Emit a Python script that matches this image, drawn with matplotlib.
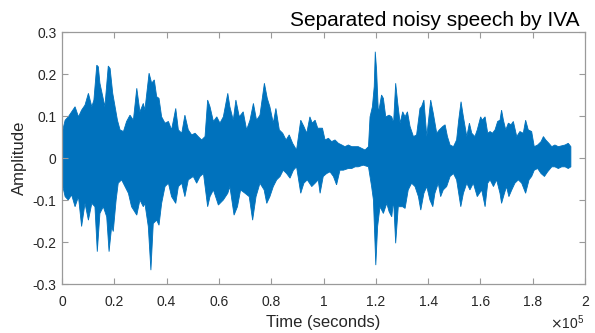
import numpy as np
import matplotlib.pyplot as plt

# --- envelope of the separated signal ---
# positions in thousands of samples, amplitudes in signal units
upper_k = [0, 1.2, 2.4, 3.7, 5.0, 6.3, 7.5, 8.8, 10.1, 11.4, 12.2, 13.3, 13.9, 14.5, 15.6, 16.4,
           17.7, 18.4, 19.4, 20.3, 21.2, 22.2, 23.5, 24.7, 26.0, 27.3, 28.6, 29.8, 31.1,
           31.7, 33.3, 34.3, 35.3, 36.2, 37.1, 38.1, 39.4, 40.7, 41.9, 43.5, 44.5, 45.8, 47.0,
           48.3, 49.6, 50.9, 52.1, 53.4, 54.7, 55.7, 56.6, 57.9, 59.2, 60.4, 61.7, 63.4,
           64.2, 65.5, 66.5, 67.8, 69.3, 70.6, 71.9, 73.2, 74.4, 75.7, 77.4, 78.5, 79.5, 80.8,
           81.8, 83.1, 84.4, 85.7, 86.9, 88.2, 89.7, 91.3, 92.5, 93.6, 94.8, 95.7,
           96.8, 97.8, 98.7, 99.6, 100.6, 101.9, 103.1, 104.4, 105.7, 107.0, 108.2, 109.5,
           110.8, 112.1, 113.3, 114.6, 115.9, 117.2, 117.8, 118.7, 119.4, 119.8, 120.3, 121.0,
           122.2, 122.9, 123.8, 125.1, 126.1, 126.8, 127.6, 128.4, 129.3,
           130.3, 131.2, 132.1, 133.1, 134.4, 135.6, 136.9, 137.5, 138.4, 139.5, 141.0, 142.0,
           143.3, 144.3, 145.6, 146.5, 147.4, 148.4, 149.7, 150.9, 151.7, 152.6, 153.5, 154.8,
           155.8, 156.7, 157.9, 158.8, 160.1, 160.7,
           161.8, 162.8, 163.7, 164.6, 165.6, 166.6, 167.5, 168.1, 168.8, 169.7, 170.7, 171.7,
           172.6, 173.9, 175.1, 176.4, 177.3, 178.3, 179.6, 180.6, 181.9, 183.2, 184.1, 185.0,
           186.2, 187.3, 188.5, 189.8, 191.1, 192.4, 193.6, 194.6]
upper_amp = [0.059, 0.090, 0.098, 0.110, 0.122, 0.098, 0.114, 0.126, 0.154, 0.122, 0.138, 0.221,
             0.217, 0.178, 0.146, 0.122, 0.219, 0.213, 0.154, 0.122, 0.090, 0.067, 0.063, 0.087,
             0.102, 0.090, 0.166, 0.110, 0.130,
             0.114, 0.202, 0.178, 0.186, 0.146, 0.142, 0.098, 0.083, 0.087, 0.067, 0.118, 0.067,
             0.059, 0.102, 0.067, 0.055, 0.059, 0.051, 0.043, 0.051, 0.138, 0.122, 0.087, 0.098,
             0.083, 0.098, 0.154,
             0.122, 0.090, 0.138, 0.098, 0.110, 0.067, 0.090, 0.130, 0.090, 0.102, 0.178, 0.142,
             0.122, 0.083, 0.118, 0.067, 0.059, 0.043, 0.055, 0.035, 0.019, 0.090, 0.075, 0.059,
             0.098, 0.083,
             0.090, 0.071, 0.071, 0.071, 0.043, 0.047, 0.039, 0.043, 0.035, 0.031, 0.027, 0.031,
             0.027, 0.027, 0.027, 0.023, 0.019, 0.027, 0.098, 0.122, 0.170, 0.253, 0.210, 0.106,
             0.150, 0.142, 0.098, 0.102, 0.098, 0.083, 0.178, 0.130, 0.083,
             0.110, 0.098, 0.110, 0.075, 0.051, 0.055, 0.118, 0.122, 0.138, 0.051, 0.138, 0.106,
             0.059, 0.067, 0.075, 0.079, 0.051, 0.031, 0.027, 0.043, 0.090, 0.134, 0.098, 0.051,
             0.083, 0.059, 0.051, 0.067, 0.098, 0.090,
             0.098, 0.059, 0.063, 0.059, 0.067, 0.087, 0.090, 0.114, 0.090, 0.067, 0.083, 0.079,
             0.087, 0.051, 0.063, 0.059, 0.090, 0.067, 0.063, 0.027, 0.031, 0.039, 0.051, 0.043,
             0.035, 0.027, 0.031, 0.027, 0.029, 0.031, 0.035, 0.027]

lower_k = [0, 1.2, 2.4, 3.7, 5.0, 6.3, 7.5, 8.8, 10.1, 11.4, 12.6, 13.5, 14.5, 15.8, 17.1, 18.0,
           19.0, 19.6, 20.7, 21.5, 22.8, 24.1, 25.4, 26.6, 28.6, 29.8, 31.1,
           31.7, 33.0, 34.0, 34.9, 36.2, 37.1, 38.1, 39.4, 40.7, 41.9, 43.5, 44.5, 45.8, 47.0,
           48.3, 50.2, 51.5, 52.8, 54.1, 55.7, 56.6, 57.9, 59.8, 61.7, 63.4,
           64.2, 65.8, 67.1, 68.3, 70.0, 71.6, 72.9, 74.2, 75.7, 77.3, 78.3, 79.5, 80.8, 82.1,
           83.4, 84.6, 85.9, 87.2, 88.5, 89.7, 91.3, 92.5, 93.8, 95.5,
           96.8, 98.0, 98.7, 99.9, 101.2, 102.5, 103.8, 105.0, 106.3, 107.6, 109.5, 110.8,
           112.1, 113.3, 115.2, 117.2, 118.4, 119.1, 120.0, 120.7, 121.6, 122.9, 124.2, 125.1,
           126.1, 126.8, 127.6, 128.6,
           130.3, 131.2, 132.4, 133.7, 135.0, 136.3, 137.2, 138.4, 139.5, 140.7, 141.8, 142.6,
           143.9, 144.8, 145.8, 147.1, 148.4, 149.7, 150.9, 152.5, 153.5, 154.8, 156.0, 157.3,
           158.8, 160.5,
           161.8, 162.8, 163.7, 165.0, 166.2, 167.5, 168.1, 169.2, 170.0, 170.9, 172.0, 173.2,
           174.5, 175.8, 177.3, 178.6, 179.6, 180.6, 181.9, 183.2, 184.5, 185.7, 187.3, 188.5,
           189.8, 191.1, 192.4, 193.6, 194.6]
lower_amp = [-0.060, -0.092, -0.100, -0.088, -0.116, -0.092, -0.163, -0.108, -0.148, -0.108,
             -0.116, -0.223, -0.132, -0.116, -0.140, -0.223, -0.163, -0.175, -0.100, -0.060,
             -0.052, -0.068, -0.084, -0.116, -0.136, -0.100, -0.116,
             -0.108, -0.163, -0.267, -0.156, -0.148, -0.160, -0.108, -0.068, -0.060, -0.092,
             -0.108, -0.068, -0.060, -0.092, -0.052, -0.044, -0.060, -0.044, -0.037, -0.116,
             -0.092, -0.076, -0.112, -0.100, -0.084,
             -0.068, -0.136, -0.116, -0.076, -0.084, -0.092, -0.148, -0.092, -0.060, -0.076,
             -0.108, -0.092, -0.068, -0.052, -0.044, -0.029, -0.037, -0.048, -0.029, -0.021,
             -0.084, -0.060, -0.052, -0.068,
             -0.060, -0.052, -0.084, -0.044, -0.037, -0.033, -0.044, -0.064, -0.029, -0.029,
             -0.025, -0.025, -0.021, -0.021, -0.017, -0.021, -0.068, -0.100, -0.255, -0.163,
             -0.116, -0.132, -0.108, -0.128, -0.140, -0.100, -0.203, -0.116,
             -0.116, -0.120, -0.076, -0.060, -0.068, -0.092, -0.124, -0.084, -0.068, -0.100,
             -0.116, -0.084, -0.060, -0.092, -0.076, -0.068, -0.044, -0.037, -0.052, -0.116,
             -0.084, -0.060, -0.076, -0.060, -0.092, -0.076,
             -0.116, -0.060, -0.052, -0.068, -0.052, -0.084, -0.108, -0.084, -0.068, -0.092,
             -0.076, -0.060, -0.052, -0.060, -0.084, -0.052, -0.044, -0.029, -0.025, -0.037,
             -0.044, -0.033, -0.021, -0.021, -0.025, -0.021, -0.021, -0.025, -0.021]

x_ticks = [0, 20000, 40000, 60000, 80000, 100000, 120000, 140000, 160000, 180000, 200000]
x_tick_labels = ['0', '0.2', '0.4', '0.6', '0.8', '1', '1.2', '1.4', '1.6', '1.8', '2']
y_ticks = [-0.3, -0.2, -0.1, 0, 0.1, 0.2, 0.3]
y_tick_labels = ['-0.3', '-0.2', '-0.1', '0', '0.1', '0.2', '0.3']

plt.rcParams['font.family'] = ['Liberation Sans', 'DejaVu Sans']

fig = plt.figure(figsize=(5.95, 3.33), dpi=100)
fig.patch.set_facecolor('white')
ax = fig.add_axes([62 / 595, 1 - 284 / 333, 523 / 595, 252 / 333])

wave_blue = '#0072BD'
xs = np.concatenate([np.array(upper_k), np.array(lower_k)[::-1]]) * 1000
ys = np.concatenate([np.array(upper_amp), np.array(lower_amp)[::-1]])
ax.fill(xs, ys, color=wave_blue, linewidth=0.6, edgecolor=wave_blue)

ax.set_xlim(0, 200000)
ax.set_ylim(-0.3, 0.3)
ax.set_xticks(x_ticks)
ax.set_xticklabels(x_tick_labels)
ax.set_yticks(y_ticks)
ax.set_yticklabels(y_tick_labels)

axis_grey = '#9a9a9a'
for s in ax.spines.values():
    s.set_color(axis_grey)
    s.set_linewidth(0.9)
ax.tick_params(direction='in', length=4.5, width=0.8, color=axis_grey,
               labelsize=10, labelcolor='#262626', top=True, right=True)
ax.tick_params(axis='x', pad=8)
ax.tick_params(axis='y', pad=4)

# title / labels placed like the MATLAB figure
fig.text(580 / 595, 1 - 26 / 333, 'Separated noisy speech by IVA', ha='right',
         va='baseline', fontsize=15, color='black')
fig.text(19 / 595, 1 - 158 / 333, 'Amplitude', rotation=90, ha='center',
         va='center', fontsize=12, color='#262626')
fig.text(323 / 595, 1 - 323 / 333, 'Time (seconds)', ha='center', va='center',
         fontsize=12, color='#262626')
fig.text(584 / 595, 1 - 329 / 333, r'$\times\mathregular{10^5}$', ha='right',
         va='baseline', fontsize=10, color='#262626')

fig.savefig('out.png', dpi=100)
